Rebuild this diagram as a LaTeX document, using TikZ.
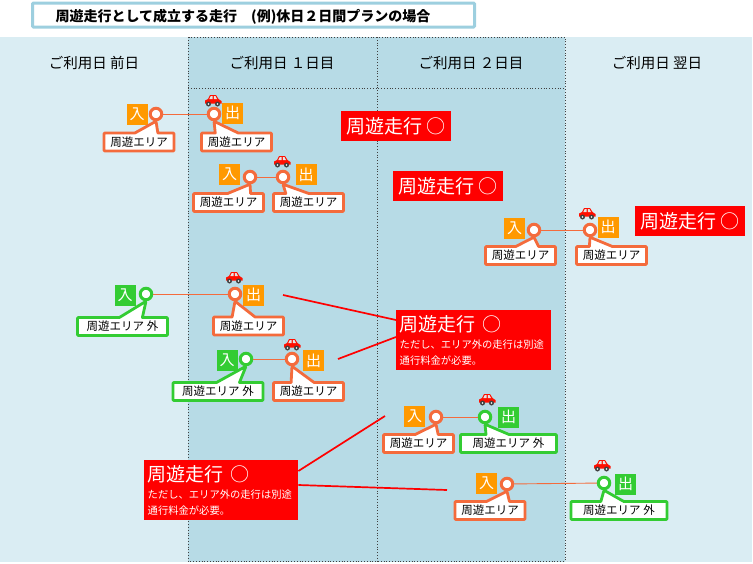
\documentclass[tikz,border=0pt]{standalone}
\usepackage{fontspec}
\setmainfont{Noto Sans CJK JP}
\usepackage{tikz}
\usetikzlibrary{shapes.callouts, positioning}
\definecolor{paleblue}{HTML}{DAEDF3}
\definecolor{midblue}{HTML}{B7DBE6}
\definecolor{edgeblue}{HTML}{9DCFDF}
\definecolor{areaorange}{HTML}{F46B3C}
\definecolor{areagreen}{HTML}{33CC33}
\definecolor{tagorange}{HTML}{FF9900}
\tikzstyle{stopin} = [circle, minimum size=11.5pt, inner sep=0pt, line width=3pt, fill=white, draw=areaorange]
\tikzstyle{stopout} = [stopin, draw=areagreen]
\tikzstyle{tag} = [minimum size=21pt, inner sep=0pt, text=white, fill=tagorange, font=\fontsize{15}{15}\selectfont]
\tikzstyle{tagout} = [tag, fill=areagreen]
\tikzstyle{area} = [rectangle callout, callout pointer width=23pt, minimum width=70pt, minimum height=18pt, inner sep=0pt, rounded corners=0.8pt, line join=round, fill=white, draw=areaorange, line width=2.8pt, font=\fontsize{11.5}{12}\selectfont]
\tikzstyle{areaout} = [area, minimum width=90pt, draw=areagreen]
\tikzstyle{link} = [draw=areaorange, line width=0.9pt]
\tikzstyle{day} = [font=\fontsize{14.5}{15}\selectfont]
\tikzstyle{ok} = [fill=red, text=white, minimum width=110pt, minimum height=30pt, inner sep=0pt, font=\fontsize{19}{20}\selectfont]
\tikzstyle{oknote} = [fill=red, text=white, anchor=north west, align=left, inner sep=0pt, inner xsep=3.5pt, inner ysep=5pt, font=\fontsize{19}{20}\selectfont]
\tikzstyle{leader} = [draw=red, line width=1.7pt]
\tikzstyle{grid} = [dash pattern=on 1pt off 1.8pt, gray!50!black, line width=1pt]
\tikzset{carpic/.pic={
  \fill[red!88!orange] (-8,1.5) -- (-8,-1.5) -- (-5,-3) -- (-3,-7) -- (3,-7) -- (5.5,-3) -- (8.5,-1) -- (8.5,1.5) -- cycle;
  \fill[white!80!gray] (-2.3,-5.8) -- (-3.7,-3) -- (-0.3,-3) -- (-0.3,-5.8) -- cycle;
  \fill[white!80!gray] (0.8,-5.8) -- (0.8,-3) -- (4,-3) -- (2.5,-5.8) -- cycle;
  \fill[black!75] (-4.5,2) circle (2.5) (4.5,2) circle (2.5);
  \fill[white!70] (-4.5,2) circle (0.9) (4.5,2) circle (0.9);
}}
\newcommand{\smalltxt}{\fontsize{10.3}{14.5}\selectfont}
\begin{document}
\begin{tikzpicture}[x=1pt, y=-1pt]
\useasboundingbox (0,0) rectangle (753,563);
\fill [paleblue] (0,37) rectangle (752,562);
\fill [midblue] (188,37) rectangle (565,562);
\draw [grid] (188,37) rectangle (565,561);
\draw [grid] (377,37) -- (377,561);
\draw [grid] (188,88) -- (565,88);

\node (title) [draw=edgeblue, line width=3pt, rounded corners=1pt, fill=white, minimum width=442pt, minimum height=24pt, inner sep=0pt] at (253.5,15) {};
\node (titletext) [font=\fontsize{14}{15}\selectfont\bfseries] at (243,17) {周遊走行として成立する走行　(例)休日２日間プランの場合};

\node (before) [day] at (94,63) {ご利用日 前日};
\node (first) [day] at (282,63) {ご利用日 １日目};
\node (second) [day] at (471,63) {ご利用日 ２日目};
\node (after) [day] at (657,63) {ご利用日 翌日};

% route 1
\node (a1) [stopin] at (156,114) {};
\node (b1) [stopin] at (214,114) {};
\draw [link] (a1) -- (b1);
\node (ta1) [tag] at (137,114) {入};
\node (tb1) [tag] at (232.5,113) {出};
\node (la1) [area, callout absolute pointer={(a1.south)}] at (139,142) {周遊エリア};
\node (lb1) [area, callout absolute pointer={(b1.south)}] at (236.5,142) {周遊エリア};
\pic at (213,102) {carpic};

% route 2
\node (a2) [stopin] at (250,177) {};
\node (b2) [stopin] at (283,177) {};
\draw [link] (a2) -- (b2);
\node (ta2) [tag] at (229.5,174.5) {入};
\node (tb2) [tag] at (306,174.5) {出};
\node (la2) [area, callout absolute pointer={(a2.south)}] at (228.5,202.5) {周遊エリア};
\node (lb2) [area, callout absolute pointer={(b2.south)}] at (308.5,202.5) {周遊エリア};
\pic at (282,163) {carpic};

% route 3
\node (a3) [stopin] at (534,230) {};
\node (b3) [stopin] at (590,230) {};
\draw [link] (a3) -- (b3);
\node (ta3) [tag] at (514.5,228) {入};
\node (tb3) [tag] at (608,227) {出};
\node (la3) [area, callout absolute pointer={(a3.south)}] at (520.5,255.5) {周遊エリア};
\node (lb3) [area, callout absolute pointer={(b3.south)}] at (611.5,255.5) {周遊エリア};
\pic at (587,215) {carpic};

% route 4
\node (a4) [stopout] at (146,294) {};
\node (b4) [stopin] at (235,294) {};
\draw [link] (a4) -- (b4);
\node (ta4) [tagout] at (125,295) {入};
\node (tb4) [tag] at (253.5,295) {出};
\node (la4) [areaout, callout absolute pointer={(a4.south)}] at (122.5,326.5) {周遊エリア 外};
\node (lb4) [area, callout absolute pointer={(b4.south)}] at (248.5,326) {周遊エリア};
\pic at (234,279) {carpic};

% route 5
\node (a5) [stopout] at (246,359) {};
\node (b5) [stopin] at (292,359) {};
\draw [link] (a5) -- (b5);
\node (ta5) [tagout] at (227,360) {入};
\node (tb5) [tag] at (313.5,360.5) {出};
\node (la5) [areaout, callout absolute pointer={(a5.south)}] at (218,391.5) {周遊エリア 外};
\node (lb5) [area, callout absolute pointer={(b5.south)}] at (308.5,391.5) {周遊エリア};
\pic at (292,346) {carpic};

% route 6
\node (a6) [stopin] at (436,417) {};
\node (b6) [stopout] at (485,417) {};
\draw [link] (a6) -- (b6);
\node (ta6) [tag] at (414.5,416) {入};
\node (tb6) [tagout] at (508.5,417) {出};
\node (la6) [area, callout absolute pointer={(a6.south)}] at (418.5,443.5) {周遊エリア};
\node (lb6) [areaout, minimum width=96pt, callout absolute pointer={(b6.south)}] at (508.5,443.5) {周遊エリア 外};
\pic at (487,401) {carpic};

% route 7
\node (a7) [stopin] at (507,484) {};
\node (b7) [stopout] at (604,483) {};
\draw [link] (a7) -- (b7);
\node (ta7) [tag] at (486.5,483) {入};
\node (tb7) [tagout] at (625.5,484) {出};
\node (la7) [area, callout absolute pointer={(a7.south)}] at (490,510.5) {周遊エリア};
\node (lb7) [areaout, minimum width=96pt, callout absolute pointer={(b7.south)}] at (619,510.5) {周遊エリア 外};
\pic at (602,467) {carpic};

\node (ok1) [ok] at (396,126) {周遊走行 ○};
\node (ok2) [ok] at (448,186) {周遊走行 ○};
\node (ok3) [ok] at (690,221) {周遊走行 ○};
\node (note1) [oknote, text width=148pt, minimum height=60pt] at (396,310) {周遊走行 ○\\[-3pt]{\smalltxt ただし、エリア外の走行は別途}\\[-4pt]{\smalltxt 通行料金が必要。}};
\node (note2) [oknote, text width=147pt, minimum height=58pt] at (144,460) {周遊走行 ○\\[-3pt]{\smalltxt ただし、エリア外の走行は別途}\\[-4pt]{\smalltxt 通行料金が必要。}};

\coordinate (p1) at (283,295);
\coordinate (p2) at (338,359);
\coordinate (p3) at (385,416);
\coordinate (p4) at (447,490);
\draw [leader] (p1) -- (note1.west |- 0,320);
\draw [leader] (p2) -- (note1.west |- 0,337);
\draw [leader] (p3) -- (note2.east |- 0,471);
\draw [leader] (p4) -- (note2.east |- 0,485);
\end{tikzpicture}
\end{document}
